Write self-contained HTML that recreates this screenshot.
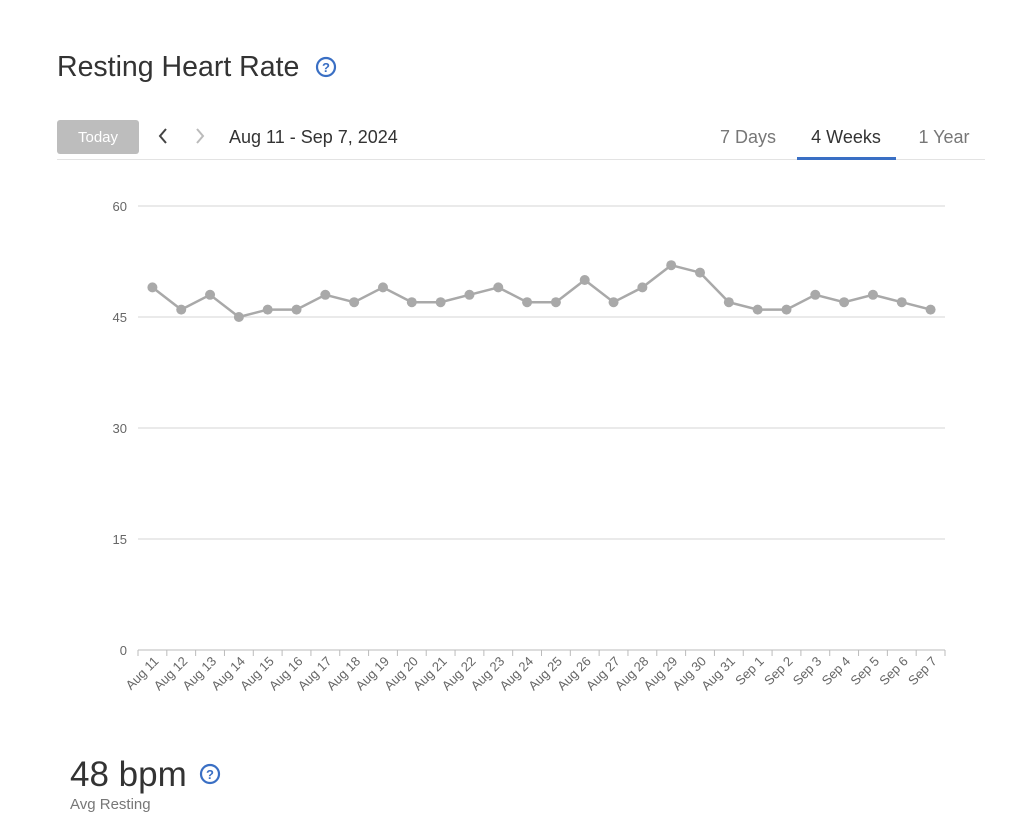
<!DOCTYPE html>
<html><head><meta charset="utf-8"><style>
body{margin:0;background:#fff;font-family:"Liberation Sans",sans-serif;}
</style></head><body>
<svg width="1024" height="833" xmlns="http://www.w3.org/2000/svg" font-family="Liberation Sans, sans-serif">
<text x="57" y="76" font-size="28.5" fill="#333">Resting Heart Rate</text>
<circle cx="326" cy="67" r="9" fill="none" stroke="#3a6fc4" stroke-width="2.2"/>
<text x="326" y="72" font-size="13" font-weight="bold" fill="#3a6fc4" text-anchor="middle">?</text>
<rect x="57" y="120" width="82" height="34" rx="3" fill="#bdbdbd"/>
<text x="98" y="142" font-size="15" fill="#fff" text-anchor="middle">Today</text>
<path d="M166 129 L160 136 L166 143" fill="none" stroke="#444" stroke-width="2"/>
<path d="M197 129 L203 136 L197 143" fill="none" stroke="#bbb" stroke-width="2"/>
<text x="229" y="143" font-size="18" fill="#333">Aug 11 - Sep 7, 2024</text>
<text x="748" y="143" font-size="18" fill="#777" text-anchor="middle">7 Days</text>
<text x="846" y="143" font-size="18" fill="#333" text-anchor="middle">4 Weeks</text>
<text x="944" y="143" font-size="18" fill="#777" text-anchor="middle">1 Year</text>
<line x1="57" y1="159.5" x2="985" y2="159.5" stroke="#e3e3e3"/>
<rect x="797" y="157" width="99" height="3" fill="#3a6fc4"/>
<g stroke="#d6d6d6" stroke-width="1">
<line x1="138" y1="206" x2="945" y2="206"/><line x1="138" y1="317" x2="945" y2="317"/>
<line x1="138" y1="428" x2="945" y2="428"/><line x1="138" y1="539" x2="945" y2="539"/>
</g>
<line x1="138" y1="650" x2="945" y2="650" stroke="#bbb"/>
<g font-size="13" fill="#666" text-anchor="end">
<text x="127" y="211">60</text><text x="127" y="322">45</text><text x="127" y="433">30</text><text x="127" y="544">15</text><text x="127" y="655">0</text>
</g>
<g id="chart"></g>
<text x="70" y="786" font-size="35" fill="#333">48 bpm</text>
<circle cx="210" cy="774" r="9" fill="none" stroke="#3a6fc4" stroke-width="2.2"/>
<text x="210" y="779" font-size="13" font-weight="bold" fill="#3a6fc4" text-anchor="middle">?</text>
<text x="70" y="809" font-size="15" fill="#777">Avg Resting</text>
</svg>
<script>
var v=[49,46,48,45,46,46,48,47,49,47,47,48,49,47,47,50,47,49,52,51,47,46,46,48,47,48,47,46];
var L=[];for(var i=11;i<=31;i++)L.push("Aug "+i);for(i=1;i<=7;i++)L.push("Sep "+i);
var bw=807/28,s="",pts=[];
for(i=0;i<=28;i++){var tx=138+i*bw;s+='<line x1="'+tx+'" y1="650" x2="'+tx+'" y2="656" stroke="#bbb"/>';}
for(i=0;i<28;i++){var x=138+bw/2+i*bw,y=650-v[i]*7.4;pts.push(x+","+y);
s+='<text font-size="13" fill="#666" text-anchor="end" transform="translate('+(x+7)+',662) rotate(-45)">'+L[i]+'</text>';}
s+='<polyline points="'+pts.join(" ")+'" fill="none" stroke="#a9a9a9" stroke-width="2.5"/>';
pts.forEach(function(p){var a=p.split(",");s+='<circle cx="'+a[0]+'" cy="'+a[1]+'" r="5" fill="#a9a9a9"/>';});
document.getElementById("chart").innerHTML=s;
</script>
</body></html>
